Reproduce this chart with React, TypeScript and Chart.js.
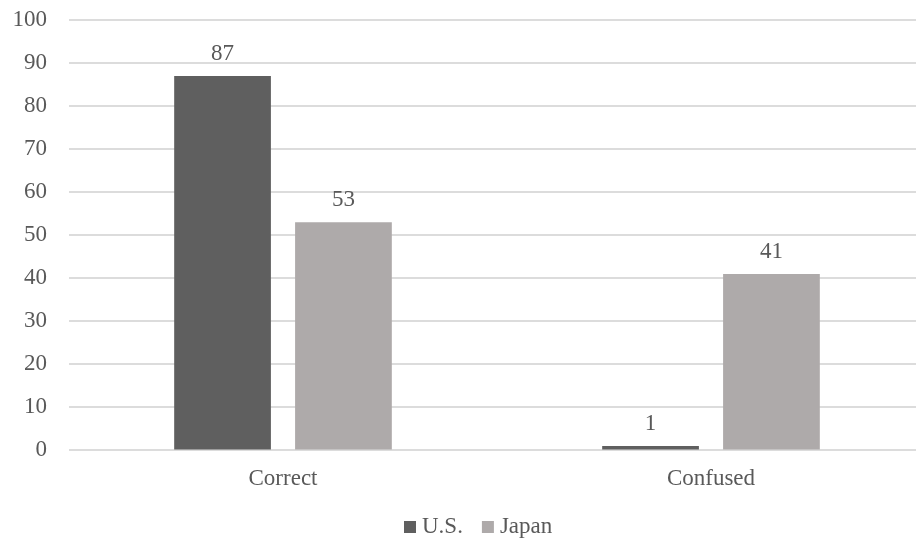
import React, { useEffect, useRef } from "react";
import { Chart, registerables } from "chart.js";

Chart.register(...registerables);

// Chart data
const categories = ["Correct", "Confused"];
const seriesNames = ["U.S.", "Japan"];
const usValues = [87, 1];
const japanValues = [53, 41];
const seriesColors = ["#5f5f5f", "#aeaaaa"];
const yMin = 0;
const yMax = 100;
const yStep = 10;

const FONT = "'Liberation Serif', 'Times New Roman', serif";
const TEXT_COLOR = "#595959";
const FONT_SIZE = 23;

// Value labels above each bar
const valueLabels = {
  id: "valueLabels",
  afterDatasetsDraw(chart: any) {
    const ctx = chart.ctx;
    ctx.save();
    ctx.font = `${FONT_SIZE}px ${FONT}`;
    ctx.fillStyle = TEXT_COLOR;
    ctx.textAlign = "center";
    ctx.textBaseline = "alphabetic";
    chart.data.datasets.forEach((ds: any, i: number) => {
      chart.getDatasetMeta(i).data.forEach((bar: any, j: number) => {
        ctx.fillText(String(ds.data[j]), bar.x, bar.y - 16);
      });
    });
    ctx.restore();
  },
};

// Compact legend along the bottom edge
const bottomLegend = {
  id: "bottomLegend",
  afterDraw(chart: any) {
    const ctx = chart.ctx;
    ctx.save();
    ctx.font = `${FONT_SIZE}px ${FONT}`;
    ctx.textAlign = "left";
    ctx.textBaseline = "alphabetic";
    const box = 12;
    const textGap = 6;
    const itemGap = 19;
    const baseline = chart.height - 9;
    let x = 404;
    chart.data.datasets.forEach((ds: any) => {
      ctx.fillStyle = ds.backgroundColor;
      ctx.fillRect(x, baseline - box, box, box);
      x += box + textGap;
      ctx.fillStyle = TEXT_COLOR;
      ctx.fillText(ds.label, x, baseline);
      x += ctx.measureText(ds.label).width + itemGap;
    });
    ctx.restore();
  },
};

export default function App() {
  const canvasRef = useRef<HTMLCanvasElement>(null);

  useEffect(() => {
    const canvas = canvasRef.current;
    if (!canvas) return;
    const chart = new Chart(canvas, {
      type: "bar",
      data: {
        labels: categories,
        datasets: [
          {
            label: seriesNames[0],
            data: usValues,
            backgroundColor: seriesColors[0],
            categoryPercentage: 0.565,
            barPercentage: 0.8,
          },
          {
            label: seriesNames[1],
            data: japanValues,
            backgroundColor: seriesColors[1],
            categoryPercentage: 0.565,
            barPercentage: 0.8,
          },
        ],
      },
      options: {
        responsive: false,
        animation: false,
        devicePixelRatio: 1,
        layout: { padding: { top: 20, right: 15, bottom: 42, left: 0 } },
        plugins: {
          legend: { display: false },
          tooltip: { enabled: false },
        },
        scales: {
          x: {
            grid: { display: false },
            border: { display: false },
            ticks: {
              color: TEXT_COLOR,
              font: { family: FONT, size: FONT_SIZE },
              padding: 7,
            },
          },
          y: {
            min: yMin,
            max: yMax,
            ticks: {
              stepSize: yStep,
              color: TEXT_COLOR,
              font: { family: FONT, size: FONT_SIZE },
              padding: 22,
            },
            grid: { color: "#dcdcdc", lineWidth: 2, drawTicks: false },
            border: { display: false },
            afterFit: (s: any) => {
              s.width = 69;
              s.paddingTop = 0;
              s.paddingBottom = 0;
            },
          },
        },
      } as any,
      plugins: [valueLabels, bottomLegend],
    });
    return () => chart.destroy();
  }, []);

  return (
    <div
      style={{
        position: "fixed",
        left: 0,
        top: 0,
        width: 916,
        height: 542,
        overflow: "hidden",
        background: "#ffffff",
      }}
    >
      <canvas ref={canvasRef} width={940} height={542} style={{ display: "block" }} />
    </div>
  );
}
